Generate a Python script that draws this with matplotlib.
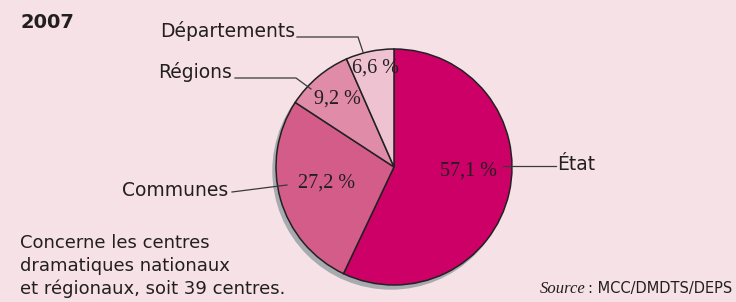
import matplotlib.pyplot as plt
from matplotlib.patches import Circle

# data
labels = ["État", "Communes", "Régions", "Départements"]
shares = [57.1, 27.2, 9.2, 6.6]
pct_text = ["57,1 %", "27,2 %", "9,2 %", "6,6 %"]
colors = ["#CC0066", "#D45C89", "#E08BA7", "#EFC2D1"]
note_lines = ["Concerne les centres", "dramatiques nationaux",
              "et régionaux, soit 39 centres."]

W, H = 736, 302
bg = "#F5E1E6"

fig = plt.figure(figsize=(W / 100, H / 100), dpi=100, facecolor=bg)
ax = fig.add_axes([0, 0, 1, 1])


def py(y):
    # pixel row (from top) -> data y
    return H - y


cx, cy, r = 394, 167, 118

# shadow
ax.add_patch(Circle((cx - 3, py(cy) - 4), r, color="#A7ABAF", zorder=1))

ax.pie(shares, colors=colors, startangle=90, counterclock=False,
       center=(cx, py(cy)), radius=r,
       wedgeprops=dict(edgecolor="#222222", linewidth=1.1), frame=True)
ax.set_xlim(0, W)
ax.set_ylim(0, H)
ax.set_aspect("equal")
ax.axis("off")
for p in ax.patches[1:]:
    p.set_zorder(2)

serif = "Liberation Serif"
sans = "DejaVu Sans"
txt = "#231F20"

# percentage labels
pct_pos = [(468, 171), (327, 183), (337, 99), (375, 68)]
for t, (x, y) in zip(pct_text, pct_pos):
    ax.text(x, py(y), t, ha="center", va="center", fontsize=14.5,
            family=serif, color=txt, zorder=3)

# category labels with leader lines
lab_pos = [(557, 164, "left"), (228, 190, "right"), (232, 72, "right"),
           (295, 31, "right")]
for t, (x, y, ha) in zip(labels, lab_pos):
    ax.text(x, py(y), t, ha=ha, va="center", fontsize=13.5, family=sans,
            color=txt, zorder=3)

lc = "#3A3A3A"
lines = [
    [(503, 166), (556, 166)],
    [(232, 192), (287, 185)],
    [(235, 78), (296, 78), (311, 89)],
    [(297, 37), (358, 37), (363, 52)],
]
for pts in lines:
    ax.plot([p[0] for p in pts], [py(p[1]) for p in pts], color=lc,
            lw=0.9, zorder=3)

ax.text(20, py(22), "2007", ha="left", va="center", fontsize=14,
        fontweight="bold", family=sans, color=txt)

for i, line in enumerate(note_lines):
    ax.text(20, py(243 + 23 * i), line, ha="left", va="center",
            fontsize=13, family=sans, color=txt)

ax.text(540, py(289), "Source", ha="left", va="center", fontsize=12,
        family=serif, style="italic", color=txt)
ax.text(732, py(289), ": MCC/DMDTS/DEPS", ha="right", va="center",
        fontsize=10.5, family=sans, color=txt)

fig.savefig("out.png", dpi=100, facecolor=bg)
